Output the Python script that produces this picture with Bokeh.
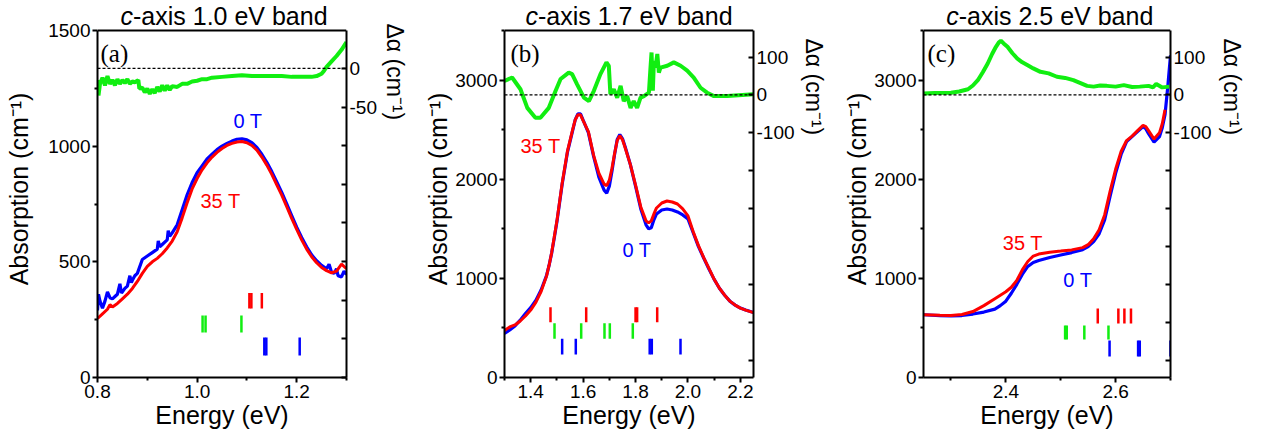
import math
from bokeh.plotting import figure
from bokeh.models import Range1d, LinearAxis, FixedTicker, Label, Span, NumeralTickFormatter, Title
from bokeh.layouts import row
from bokeh.embed import file_html
from bokeh.resources import INLINE

# ---------------- data: panel (a) c-axis 1.0 eV band ----------------
E_a_blue = [0.800, 0.802, 0.805, 0.810, 0.815, 0.820, 0.825, 0.830, 0.835, 0.840,
            0.845, 0.848, 0.850, 0.855, 0.860, 0.865, 0.868, 0.870, 0.875, 0.880,
            0.890, 0.900, 0.910, 0.920, 0.922, 0.925, 0.930, 0.940, 0.942, 0.945,
            0.950, 0.960, 0.970, 0.980, 0.990, 1.000, 1.010, 1.020, 1.030, 1.040,
            1.050, 1.060, 1.070, 1.080, 1.090, 1.100,
            1.110, 1.120, 1.130, 1.140, 1.150, 1.160, 1.170, 1.180, 1.190, 1.200,
            1.210, 1.220, 1.230, 1.240, 1.250, 1.260,
            1.265, 1.270, 1.275, 1.280, 1.283, 1.290, 1.295, 1.300]
A_a_blue = [290, 360, 330, 300, 330, 370, 345, 340, 350, 360,
            405, 365, 370, 385, 395, 440, 410, 420, 440, 450,
            510, 525, 540, 555, 590, 565, 575, 595, 635, 610,
            625, 660, 725, 790, 843, 885, 915, 945, 965, 985,
            1000, 1012, 1022, 1030, 1032, 1027,
            1015, 995, 965, 930, 890, 845, 800, 750, 700, 650,
            605, 565, 530, 505, 485, 470,
            490, 455, 450, 470, 440, 435, 460, 445]
E_a_red = [0.80, 0.81, 0.82, 0.825, 0.83,
           0.84, 0.85, 0.86, 0.87, 0.88, 0.89, 0.90, 0.91, 0.92, 0.93,
           0.94, 0.95, 0.96, 0.97, 0.98, 0.99, 1.00, 1.01, 1.02, 1.03,
           1.04, 1.05, 1.06, 1.07, 1.08, 1.09, 1.10, 1.11, 1.12, 1.13,
           1.14, 1.15, 1.16, 1.17, 1.18, 1.19, 1.20, 1.21, 1.22, 1.23,
           1.24, 1.25, 1.26, 1.27, 1.28, 1.29, 1.30]
A_a_red = [255, 275, 295, 315, 305,
           320, 340, 360, 385, 415, 450, 480, 500, 515, 535,
           560, 590, 630, 690, 755, 815, 860, 898, 928, 953,
           973, 990, 1003, 1012, 1018, 1020, 1015, 1003, 983, 953,
           918, 878, 833, 788, 738, 688, 640, 595, 555, 522,
           496, 476, 462, 452, 460, 490, 470]
E_a_diff = [0.800, 0.802, 0.805, 0.810, 0.815, 0.820, 0.825, 0.830, 0.835, 0.840,
            0.845, 0.850, 0.855, 0.860, 0.865, 0.870, 0.875, 0.880, 0.882, 0.884,
            0.890, 0.895, 0.900, 0.905, 0.910, 0.915, 0.920, 0.925, 0.930, 0.935,
            0.940, 0.945, 0.950, 0.960, 0.970, 0.980, 0.990, 1.000, 1.010, 1.020,
            1.030, 1.050, 1.070, 1.090, 1.110, 1.130, 1.150, 1.170, 1.190, 1.210,
            1.230, 1.240, 1.250, 1.255, 1.260, 1.270, 1.280, 1.290, 1.300]
D_a_diff = [-15, -35, -20, -12, -22, -10, -20, -15, -22, -14,
            -20, -15, -19, -14, -20, -17, -18, -16, -15, -26,
            -25, -31, -26, -33, -27, -32, -24, -30, -22, -29,
            -22, -28, -23, -24, -20, -20, -17, -16, -14, -14,
            -12, -11, -10, -9, -10, -10, -10, -10, -11, -11,
            -11, -10, -7, -3, 2, 9, 16, 24, 34]
mark_a_red = [1.105, 1.109, 1.130]
mark_a_green = [1.011, 1.017, 1.089]
mark_a_blue = [1.135, 1.139, 1.206]

# ---------------- data: panel (b) c-axis 1.7 eV band ----------------
E_b = [1.30, 1.32, 1.34, 1.36, 1.38, 1.40, 1.42, 1.44, 1.46, 1.47,
       1.48, 1.49, 1.50, 1.52, 1.54, 1.56, 1.57, 1.58, 1.59, 1.60,
       1.62, 1.64, 1.66, 1.68, 1.69, 1.70, 1.71, 1.72, 1.73, 1.74,
       1.75, 1.76, 1.78, 1.80, 1.82, 1.84, 1.85, 1.86, 1.87, 1.88,
       1.90, 1.92, 1.94, 1.96, 1.98, 2.00, 2.02, 2.04, 2.06, 2.08,
       2.10, 2.12, 2.14, 2.16, 2.18, 2.20, 2.22, 2.25]
A_b_red = [474, 510, 530, 570, 620, 680, 760, 870, 1020, 1130,
           1260, 1420, 1580, 1960, 2280, 2500, 2600, 2650, 2650, 2590,
           2480, 2240, 2060, 1950, 1935, 1990, 2110, 2260, 2390, 2440,
           2400, 2320, 2150, 1940, 1720, 1580, 1560, 1580, 1650, 1710,
           1760, 1780, 1770, 1750, 1700, 1630, 1470, 1330, 1210, 1100,
           990, 900, 830, 770, 730, 700, 680, 655]
A_b_blue = [444, 480, 520, 578, 645, 705, 780, 885, 1025, 1130,
            1255, 1410, 1570, 1950, 2270, 2490, 2600, 2660, 2660, 2595,
            2470, 2230, 2020, 1890, 1860, 1930, 2080, 2250, 2400, 2450,
            2410, 2330, 2150, 1930, 1700, 1540, 1500, 1510, 1590, 1650,
            1690, 1700, 1690, 1670, 1640, 1600, 1460, 1320, 1205, 1095,
            990, 900, 830, 770, 730, 700, 680, 655]
E_b_diff = [1.300, 1.329, 1.361, 1.387, 1.418, 1.437, 1.469, 1.495,
            1.514, 1.545, 1.558, 1.577, 1.603, 1.622, 1.641, 1.666, 1.689, 1.698,
            1.704, 1.717, 1.730, 1.743, 1.755, 1.768, 1.781, 1.793, 1.806, 1.819,
            1.832, 1.851, 1.857, 1.861, 1.866, 1.870, 1.876, 1.883, 1.889, 1.895,
            1.921, 1.946, 1.972, 1.997, 2.022, 2.048, 2.073, 2.099, 2.150, 2.250]
D_b_diff = [37, 46, 15, -34, -60, -60, -34, 11,
            42, 59, 55, 28, -7, -16, 11, 55, 86, 77,
            2, 15, -7, 24, -16, -3, -34, -16, -34, -7,
            -3, 6, 72, 112, 11, 90, 72, 108, 59, 72,
            77, 86, 77, 64, 46, 19, 6, -3, -3, 2]
mark_b_red = [1.4755, 1.6117, 1.800, 1.806, 1.8826]
mark_b_green = [1.4908, 1.5926, 1.6815, 1.7018, 1.7895]
mark_b_blue = [1.520, 1.572, 1.854, 1.862, 1.9715]

# ---------------- data: panel (c) c-axis 2.5 eV band ----------------
E_c_red = [2.25, 2.28, 2.30, 2.32, 2.34, 2.36, 2.38, 2.39, 2.40, 2.41,
           2.42, 2.43, 2.44, 2.45, 2.46, 2.48, 2.50, 2.52, 2.54, 2.55,
           2.56, 2.57, 2.58, 2.59, 2.60, 2.61, 2.62, 2.63, 2.64, 2.65,
           2.655, 2.66, 2.67, 2.68, 2.685, 2.69]
A_c_red = [633, 628, 626, 635, 665, 725, 795, 830, 865, 910,
           980, 1085, 1170, 1225, 1245, 1264, 1275, 1287, 1310, 1340,
           1400, 1490, 1640, 1880, 2100, 2280, 2390, 2435, 2490, 2543,
           2530, 2490, 2405, 2470, 2560, 2700]
E_c_blue = [2.25, 2.28, 2.30, 2.32, 2.34, 2.36, 2.38, 2.39, 2.40, 2.41,
            2.42, 2.43, 2.44, 2.45, 2.46, 2.48, 2.50, 2.52, 2.54, 2.55,
            2.56, 2.57, 2.58, 2.59, 2.60, 2.61, 2.62, 2.63, 2.64, 2.65,
            2.655, 2.66, 2.67, 2.68, 2.685, 2.69, 2.695, 2.70]
A_c_blue = [633, 625, 622, 625, 640, 660, 690, 725, 770, 850,
            940, 1040, 1120, 1160, 1180, 1210, 1235, 1260, 1290, 1320,
            1370, 1450, 1590, 1830, 2060, 2250, 2380, 2430, 2480, 2530,
            2510, 2460, 2375, 2430, 2520, 2650, 2930, 3250]
E_c_diff = [2.250, 2.270, 2.300, 2.315, 2.331, 2.340, 2.349, 2.358, 2.367, 2.375,
            2.382, 2.387, 2.391, 2.396, 2.403, 2.412, 2.421, 2.430, 2.439, 2.450,
            2.463, 2.478, 2.493, 2.508, 2.523, 2.535, 2.548, 2.560, 2.572, 2.584,
            2.600, 2.615, 2.630, 2.644, 2.660, 2.668, 2.674, 2.685, 2.698]
D_c_diff = [4, 5, 6, 9, 15, 25, 39, 60, 83, 108,
            127, 138, 143, 136, 127, 110, 96, 86, 79, 70,
            61, 57, 48, 45, 39, 32, 24, 22, 25, 24,
            22, 26, 21, 22, 24, 20, 29, 20, 22]
mark_c_red = [2.5675, 2.605, 2.616, 2.628]
mark_c_green = [2.508, 2.511, 2.543, 2.587]
mark_c_blue = [2.589, 2.641, 2.644, 2.700]

titles = ["-axis 1.0 eV band", "-axis 1.7 eV band", "-axis 2.5 eV band"]
letters = ["(a)", "(b)", "(c)"]

# ---------------- styling / layout ----------------
SANS = "Liberation Sans"
SERIF = "Liberation Serif"
BLUE = "#0000ff"
RED = "#ff0000"
GREEN = "#11ee11"
AX_TOP, AX_BOT = 30, 377   # page px of the axes box top / bottom
FW = 249                    # frame width
BOT_B = 62


def make_panel(cfg):
    xr, yr, dr = cfg["xr"], cfg["yr"], cfg["dr"]
    L = cfg["page_left"] + cfg["bl"]
    scale = (AX_BOT - AX_TOP)
    # the frame reaches the top of the canvas so that the title sits inside it
    y_top = yr[1] + AX_TOP / scale * (yr[1] - yr[0])
    d_top = dr[1] + AX_TOP / scale * (dr[1] - dr[0])

    def X(px):
        return xr[0] + (px - L) / FW * (xr[1] - xr[0])

    def Y(py):
        return yr[0] + (AX_BOT - py) / scale * (yr[1] - yr[0])

    p = figure(width=cfg["bl"] + FW + cfg["br"], height=AX_BOT + BOT_B,
               x_range=Range1d(*xr), y_range=Range1d(yr[0], y_top),
               output_backend="svg", toolbar_location=None,
               min_border_left=cfg["bl"], min_border_right=cfg["br"],
               min_border_top=0, min_border_bottom=BOT_B)
    p.extra_y_ranges = {"d": Range1d(dr[0], d_top)}
    p.xgrid.visible = False
    p.ygrid.visible = False
    p.outline_line_color = None
    p.background_fill_color = "white"
    p.border_fill_color = "white"

    xa = p.xaxis[0]
    xa.ticker = FixedTicker(ticks=cfg["xt"], minor_ticks=cfg["xmt"])
    xa.formatter = NumeralTickFormatter(format="0.0")
    ya = p.yaxis[0]
    ya.ticker = FixedTicker(ticks=cfg["yt"], minor_ticks=cfg["ymt"])
    ya.formatter = NumeralTickFormatter(format="0")
    ya.bounds = (yr[0], yr[1])
    for ax in (xa, ya):
        ax.axis_line_width = 2
        ax.major_tick_line_width = 2
        ax.minor_tick_line_width = 2
        ax.major_tick_in = 0
        ax.major_tick_out = 5
        ax.minor_tick_in = 0
        ax.minor_tick_out = 3
        ax.major_label_text_font = SANS
        ax.major_label_text_font_size = "19px"
        ax.major_label_text_color = "black"
        ax.major_label_standoff = 2
        ax.axis_label_text_font = SANS
        ax.axis_label_text_font_size = "25px"
        ax.axis_label_text_font_style = "normal"
        ax.axis_label_text_color = "black"
    xa.axis_label = "Energy (eV)"
    xa.axis_label_standoff = 0
    ya.axis_label = "Absorption (cm\u207b\u00b9)"
    ya.axis_label_standoff = cfg["lstand"]

    ra = LinearAxis(y_range_name="d",
                    ticker=FixedTicker(ticks=cfg["dt"], minor_ticks=cfg["dmt"]),
                    formatter=NumeralTickFormatter(format="0"))
    ra.bounds = (dr[0], dr[1])
    ra.axis_line_width = 2
    ra.major_tick_line_width = 2
    ra.minor_tick_line_width = 2
    ra.major_tick_in = 5
    ra.major_tick_out = 0
    ra.minor_tick_in = 5
    ra.minor_tick_out = 0
    ra.major_label_text_font = SANS
    ra.major_label_text_font_size = "19px"
    ra.major_label_text_color = "black"
    ra.major_label_standoff = 3
    p.add_layout(ra, "right")
    # right-hand axis title, reading top to bottom, near the top
    p.add_layout(Title(text="\u0394\u03b1 (cm\u207b\u00b9)", align="left",
                       offset=cfg["roff"], standoff=cfg["rstand"],
                       text_font=SANS, text_font_size="23px",
                       text_font_style="normal", text_color="black"), "right")

    # top edge of the axes box
    p.add_layout(Span(location=yr[1], dimension="width",
                      line_color="black", line_width=2))

    # curves
    p.line(cfg["eb"], cfg["ab"], color=BLUE, line_width=3.2)
    p.line(cfg["er"], cfg["ar"], color=RED, line_width=3)
    p.line(cfg["eg"], cfg["dg"], y_range_name="d", color=GREEN, line_width=4)
    p.add_layout(Span(location=0, dimension="width", y_range_name="d",
                      line_color="black", line_width=1.3, line_dash="3 2"))

    # transition marks
    for xs, col, (lo, hi) in ((cfg["mr"], RED, cfg["rows"][0]),
                              (cfg["mg"], GREEN, cfg["rows"][1]),
                              (cfg["mb"], BLUE, cfg["rows"][2])):
        p.segment(x0=xs, x1=xs, y0=[lo] * len(xs), y1=[hi] * len(xs),
                  line_color=col, line_width=2.5)

    # title with italic c
    ty = Y(1)
    p.add_layout(Label(x=X(cfg["tx"]), y=ty, text="c", text_font=SANS,
                       text_font_size="25px", text_font_style="italic",
                       text_color="black", text_align="left", text_baseline="top"))
    p.add_layout(Label(x=X(cfg["tx"] + 12.5), y=ty, text=cfg["title"],
                       text_font=SANS, text_font_size="25px", text_color="black",
                       text_align="left", text_baseline="top"))
    # panel letter
    p.add_layout(Label(x=X(cfg["lx"]), y=Y(39), text=cfg["letter"],
                       text_font=SERIF, text_font_size="25px", text_color="black",
                       text_align="left", text_baseline="top"))
    # field labels
    p.add_layout(Label(x=X(cfg["l0"][0]), y=Y(cfg["l0"][1]), text="0 T",
                       text_font=SANS, text_font_size="20px", text_color=BLUE,
                       text_align="left", text_baseline="top"))
    p.add_layout(Label(x=X(cfg["l35"][0]), y=Y(cfg["l35"][1]), text="35 T",
                       text_font=SANS, text_font_size="20px", text_color=RED,
                       text_align="left", text_baseline="top"))
    return p


cfg_a = dict(xr=(0.8, 1.3), yr=(0, 1500), dr=(-400, 49), page_left=0, bl=97, br=74,
             xt=[0.8, 1.0, 1.2], xmt=[0.9, 1.1, 1.3],
             yt=[0, 500, 1000, 1500], ymt=[250, 750, 1250],
             dt=[0, -50], dmt=[-100, -150, -200, -250, -300, -350, -400],
             eb=E_a_blue, ab=A_a_blue, er=E_a_red, ar=A_a_red, eg=E_a_diff, dg=D_a_diff,
             mr=mark_a_red, mg=mark_a_green, mb=mark_a_blue,
             rows=((298, 365), (195, 268), (95, 173)),
             title=titles[0], letter=letters[0], tx=120, lx=100,
             l0=(233, 109), l35=(200, 189), lstand=12, rstand=4, roff=23)
cfg_b = dict(xr=(1.3, 2.25), yr=(0, 3500), dr=(-745, 170), page_left=420, bl=84, br=87,
             xt=[1.4, 1.6, 1.8, 2.0, 2.2], xmt=[1.3, 1.5, 1.7, 1.9, 2.1],
             yt=[0, 1000, 2000, 3000], ymt=[500, 1500, 2500, 3500],
             dt=[100, 0, -100], dmt=[-200, -300, -400, -500, -600, -700],
             eb=E_b, ab=A_b_blue, er=E_b, ar=A_b_red, eg=E_b_diff, dg=D_b_diff,
             mr=mark_b_red, mg=mark_b_green, mb=mark_b_blue,
             rows=((558, 709), (390, 548), (232, 390)),
             title=titles[1], letter=letters[1], tx=525, lx=510,
             l0=(622, 238), l35=(520, 134), lstand=0, rstand=7, roff=38)
cfg_c = dict(xr=(2.25, 2.70), yr=(0, 3500), dr=(-745, 170), page_left=840, bl=82, br=80,
             xt=[2.4, 2.6], xmt=[2.3, 2.5, 2.7],
             yt=[0, 1000, 2000, 3000], ymt=[500, 1500, 2500, 3500],
             dt=[100, 0, -100], dmt=[-200, -300, -400, -500, -600, -700],
             eb=E_c_blue, ab=A_c_blue, er=E_c_red, ar=A_c_red, eg=E_c_diff, dg=D_c_diff,
             mr=mark_c_red, mg=mark_c_green, mb=mark_c_blue,
             rows=((545, 695), (383, 525), (212, 373)),
             title=titles[2], letter=letters[2], tx=945, lx=926,
             l0=(1063, 268), l35=(1002, 231), lstand=0, rstand=9, roff=38)

pa = make_panel(cfg_a)
pb = make_panel(cfg_b)
pc = make_panel(cfg_c)
layout = row(pa, pb, pc)

open("out.html", "w").write(file_html(layout, INLINE))
